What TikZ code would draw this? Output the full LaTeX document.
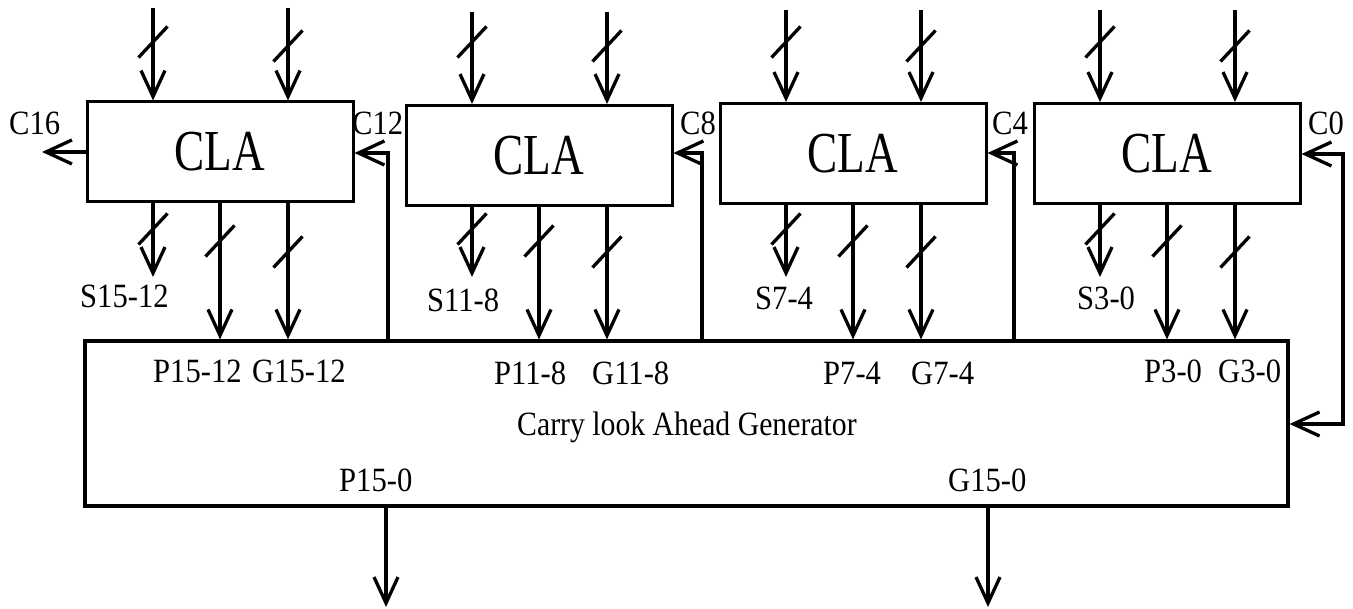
\documentclass[tikz,border=0pt]{standalone}
\usepackage{fontspec}
\newfontfamily\labfont[FakeStretch=0.9]{Liberation Serif}
\newfontfamily\genfont[FakeStretch=0.875]{Liberation Serif}
\newfontfamily\clafont[FakeStretch=0.78]{Liberation Serif}
\usetikzlibrary{arrows.meta,calc}
\newcommand\busmark[2]{\draw[slashln] (#1-14.5,#2+15.5) -- (#1+14.5,#2-15.5);}
\begin{document}
\begin{tikzpicture}[x=1pt,y=-1pt,
  wire/.style={line width=3.3pt},
  tip/.tip={Straight Barb[length=26pt,width=24pt,line width=3.3pt]},
  arr/.style={wire,-tip},
  dblarr/.style={wire,tip-tip},
  clabox/.style={draw,line width=3pt,minimum width=266pt,minimum height=100pt,inner sep=0pt,font=\clafont\fontsize{58}{60}\selectfont},
  genbox/.style={draw,line width=3.2pt,minimum width=1203pt,minimum height=165pt,inner sep=0pt},
  lab/.style={anchor=base west,inner sep=0pt,font=\labfont\fontsize{34}{40}\selectfont},
  genlab/.style={anchor=base west,inner sep=0pt,font=\genfont\fontsize{34}{40}\selectfont},
  slashln/.style={line width=3.3pt}]
\useasboundingbox (0,0) rectangle (1353,609);

% generator
\node[genbox] (gen) at (686.5,423.5) {};

% CLA blocks with their inputs and outputs
\foreach \i/\xc/\yc/\ty in {1/220/152/8, 2/539/155.5/12, 3/853/153.5/10, 4/1167/153.5/10}{
  \node[clabox] (c\i) at (\xc,\yc) {CLA};
  \coordinate (ia\i) at (\xc-67,\ty);
  \coordinate (ib\i) at (\xc+68,\ty);
  \draw[arr] (ia\i) -- (ia\i |- c\i.north);
  \draw[arr] (ib\i) -- (ib\i |- c\i.north);
  \busmark{\xc-67}{42}
  \busmark{\xc+68}{46}
  % sum output
  \coordinate (s\i) at (\xc-67,277);
  \draw[arr] (s\i |- c\i.south) -- (s\i);
  \busmark{\xc-67}{229}
  % P and G outputs
  \coordinate (p\i) at (\xc,300);
  \coordinate (g\i) at (\xc+68,300);
  \draw[arr] (p\i |- c\i.south) -- (p\i |- gen.north);
  \draw[arr] (g\i |- c\i.south) -- (g\i |- gen.north);
  \busmark{\xc}{241}
  \busmark{\xc+68}{252}
}

% carries between blocks
\coordinate (k1) at (388,153);
\coordinate (k2) at (702,153);
\coordinate (k3) at (1014,153);
\draw[arr] (k1 |- gen.north) -- (k1) -- (k1 -| c1.east);
\draw[arr] (k2 |- gen.north) -- (k2) -- (k2 -| c2.east);
\draw[arr] (k3 |- gen.north) -- (k3) -- (k3 -| c3.east);

% C16 out
\coordinate (c16) at (42,152);
\draw[arr] (c1.west) -- (c1.west -| c16);

% C0 in
\coordinate (k0) at (1343,154);
\coordinate (k0b) at (1343,424);
\draw[dblarr] (k0 -| c4.east) -- (k0) -- (k0b) -- (k0b -| gen.east);

% generator outputs
\coordinate (po) at (386,607);
\coordinate (go) at (988,607);
\draw[arr] (po |- gen.south) -- (po);
\draw[arr] (go |- gen.south) -- (go);

% labels
\node[lab] (lc16) at (9,135) {C16};
\node[lab] (lc12) at (352,135) {C12};
\node[lab] (lc8) at (680,135) {C8};
\node[lab] (lc4) at (992,135) {C4};
\node[lab] (lc0) at (1308,135) {C0};

\node[lab] (ls1) at (80,308) {S15-12};
\node[lab] (ls2) at (427,312) {S11-8};
\node[lab] (ls3) at (755,310) {S7-4};
\node[lab] (ls4) at (1077,310) {S3-0};

\node[lab] (lp1) at (153,383) {P15-12};
\node[lab] (lg1) at (252,383) {G15-12};
\node[lab] (lp2) at (494,385) {P11-8};
\node[lab] (lg2) at (592,385) {G11-8};
\node[lab] (lp3) at (823,385) {P7-4};
\node[lab] (lg3) at (911,385) {G7-4};
\node[lab] (lp4) at (1144,383) {P3-0};
\node[lab] (lg4) at (1218,383) {G3-0};

\node[genlab] (lgen) at (517,436) {Carry look Ahead Generator};
\node[lab] (lpo) at (339,492) {P15-0};
\node[lab] (lgo) at (948,492) {G15-0};
\end{tikzpicture}
\end{document}
